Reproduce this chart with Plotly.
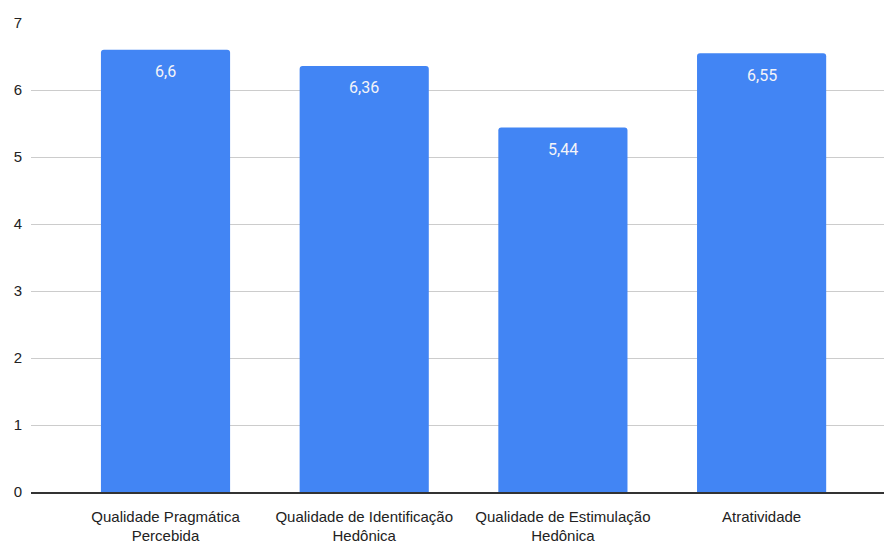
import plotly.graph_objects as go

categories = ["Qualidade Pragmática<br>Percebida", "Qualidade de Identificação<br>Hedônica",
              "Qualidade de Estimulação<br>Hedônica", "Atratividade"]
values = [6.6, 6.36, 5.44, 6.55]
labels = ["6,6", "6,36", "5,44", "6,55"]
y_ticks = [0, 1, 2, 3, 4, 5, 6, 7]

fig = go.Figure()
fig.add_trace(go.Bar(
    x=list(range(len(categories))), y=values,
    marker=dict(color="#4285F4", cornerradius=3, line=dict(width=0)),
    hoverinfo="skip",
))
for i, (v, t) in enumerate(zip(values, labels)):
    fig.add_annotation(x=i, y=v, text=t, showarrow=False, yshift=-22,
                       font=dict(family="Roboto, Arial, sans-serif", size=16, color="#f4f4f8"))

fig.update_layout(
    width=884, height=547,
    margin=dict(l=31, r=0, t=23, b=55),
    plot_bgcolor="white", paper_bgcolor="white",
    bargap=0.35, showlegend=False,
    font=dict(family="Liberation Sans Narrow, Arial Narrow, Arial, sans-serif", color="#222222"),
)
fig.update_xaxes(
    tickmode="array", tickvals=list(range(len(categories))), ticktext=categories,
    range=[-0.677, 3.616], showgrid=False, showline=True, linecolor="#333333", linewidth=1.5,
    tickfont=dict(size=15, color="#222222"), ticks="", fixedrange=True, ticklabelstandoff=10,
)
fig.update_yaxes(
    range=[0, 7], tickvals=y_ticks, showgrid=True, gridcolor="#cccccc", gridwidth=1,
    zeroline=False, showline=False, ticks="", ticklabelstandoff=8,
    tickfont=dict(family="Arial, sans-serif", size=15, color="#222222"),
)
fig.write_html("out.html")
